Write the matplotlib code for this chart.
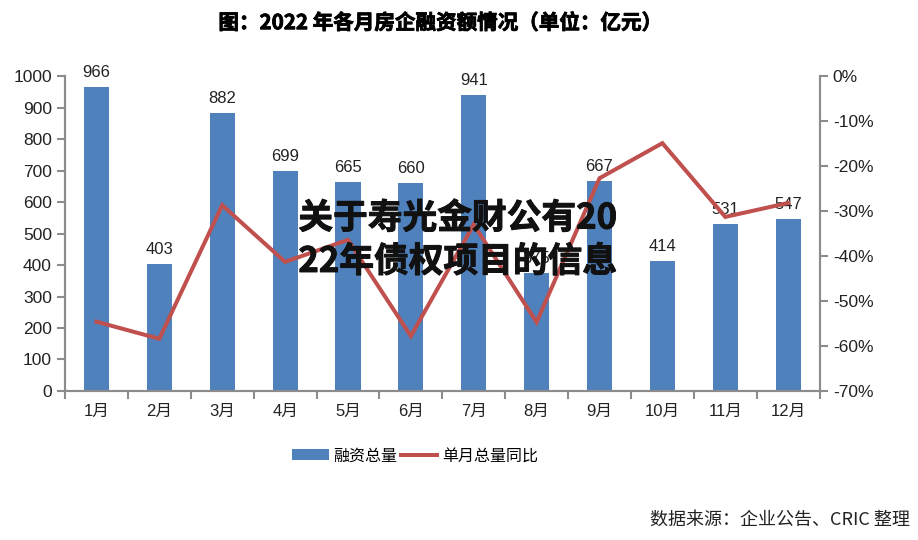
import matplotlib.pyplot as plt
import matplotlib.patheffects as pe
import numpy as np

plt.rcParams['font.family'] = ['Liberation Sans', 'Noto Sans CJK SC', 'DejaVu Sans']

# data
months = ['1月', '2月', '3月', '4月', '5月', '6月', '7月', '8月', '9月', '10月', '11月', '12月']
financing = [966, 403, 882, 699, 665, 660, 941, 375, 667, 414, 531, 547]
yoy_pct = [-54.6, -58.4, -28.7, -41.3, -36.4, -57.8, -33.0, -54.7, -22.7, -14.9, -31.3, -28.2]

bar_color = '#4F81BD'
line_color = '#C0504D'
spine_color = '#8C8C8C'

fig = plt.figure(figsize=(9.18, 5.4), dpi=100)
ax = fig.add_axes([0.0708, 0.276, 0.822, 0.583])
ax2 = ax.twinx()

x = np.arange(len(months))
bars = ax.bar(x, financing, width=0.4, color=bar_color, zorder=2, label='融资总量')
for xi, v in zip(x, financing):
    ax.annotate(str(v), (xi, v), xytext=(0, 5), textcoords='offset points',
                ha='center', va='bottom', fontsize=12, color='#222222')

line, = ax2.plot(x, yoy_pct, color=line_color, linewidth=2.9, label='单月总量同比',
                 solid_joinstyle='miter')

ax.set_xlim(-0.5, len(months) - 0.5)
ax.set_ylim(0, 1000)
ax.set_yticks(range(0, 1001, 100))
ax2.set_ylim(-70, 0)
ax2.set_yticks(range(-70, 1, 10))
ax2.set_yticklabels([f'{t}%' for t in range(-70, 1, 10)])

# category ticks sit between bars, labels at bar centres
ax.set_xticks(np.arange(-0.5, len(months), 1.0))
ax.set_xticklabels([])
ax.set_xticks(x, minor=True)
ax.set_xticklabels(months, minor=True)
ax.tick_params(axis='x', which='minor', length=0, pad=9, labelsize=12, labelcolor='#222222')
ax.tick_params(axis='x', which='major', length=6, width=1.5, color=spine_color)
ax.tick_params(axis='y', length=6, width=1.5, color=spine_color, labelsize=12.5, labelcolor='#222222')
ax2.tick_params(axis='y', length=6, width=1.5, color=spine_color, labelsize=12.5, labelcolor='#222222')

for a in (ax, ax2):
    a.spines['top'].set_visible(False)
    for s in ('left', 'right', 'bottom'):
        a.spines[s].set_color(spine_color)
        a.spines[s].set_linewidth(1.5)

fig.text(0.479, 0.958, '图：2022 年各月房企融资额情况（单位：亿元）', ha='center', va='center',
         fontsize=14.8, fontweight='bold', family=['Noto Sans CJK SC'],
         path_effects=[pe.withStroke(linewidth=0.6, foreground='black')])

fig.legend(handles=[bars, line], loc='center', bbox_to_anchor=(0.452, 0.156), ncol=2,
           frameon=False, handlelength=2.3, handletextpad=0.3,
           columnspacing=0.2, prop={'family': ['Noto Sans CJK SC'], 'size': 11.5})

fig.text(0.991, 0.037, '数据来源：企业公告、CRIC 整理', ha='right', va='center',
         color='#222222', family=['Noto Sans CJK SC'], fontsize=13)

# overlaid caption text
fig.text(0.325, 0.556, '关于寿光金财公有20\n22年债权项目的信息', ha='left', va='center',
         fontsize=25, fontweight='heavy', color='#111111', linespacing=1.3,
         family=['Noto Sans CJK SC'], zorder=10,
         path_effects=[pe.withStroke(linewidth=0.7, foreground='#111111')])

plt.savefig('out.png', dpi=100)
